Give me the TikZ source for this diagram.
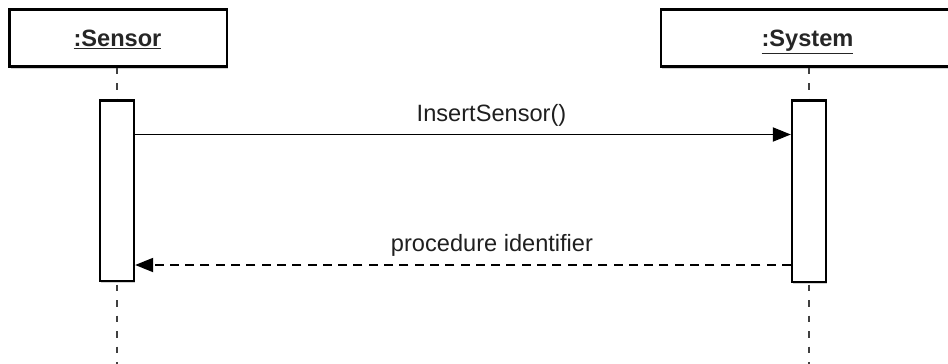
\documentclass[tikz,border=0pt]{standalone}
\usepackage{fontspec}
\setmainfont{Liberation Sans}
\usetikzlibrary{arrows.meta,shadows}

\begin{document}
\begin{tikzpicture}[x=1pt,y=-1pt,
    softshadow/.style={drop shadow={shadow xshift=1.2pt,shadow yshift=-2pt,fill=black,opacity=0.18}},
    headbox/.style={draw=black,line width=2.3pt,fill=white,softshadow,inner sep=0pt},
    headlabel/.style={font=\fontsize{23.6}{28}\selectfont\bfseries,text=black!85,inner sep=0pt},
    actbox/.style={draw=black,line width=2.3pt,fill=white,softshadow,inner sep=0pt,minimum width=34pt},
    lifeline/.style={line width=2.2pt,draw=black!75,dash pattern=on 6.5pt off 9pt},
    msg/.style={line width=1.9pt,draw=black,-{Triangle[length=18pt,width=14pt]}},
    reply/.style={msg,dash pattern=on 9pt off 6.3pt},
    msglabel/.style={font=\fontsize{23.6}{28}\selectfont,text=black!88,inner sep=0pt}]
  \useasboundingbox (0,0) rectangle (948,364);

  % participant heads
  \node[headbox,minimum width=217.5pt,minimum height=57pt] (sensorbox) at (118.25,38) {};
  \node[headbox,minimum width=294pt,minimum height=57pt] (systembox) at (808,38) {};
  \node[headlabel,anchor=base] (sensorlabel) at (117.5,46.7) {\underline{:Sensor}};
  \node[headlabel,anchor=base] (systemlabel) at (807.5,46.7) {\underline{:System}};

  % lifelines
  \coordinate (sensorend) at (117,366);
  \coordinate (systemend) at (809,366);
  \draw[lifeline] (sensorbox.south -| sensorend) -- (sensorend);
  \draw[lifeline] (systembox.south -| systemend) -- (systemend);

  % activation bars
  \node[actbox,minimum height=180.5pt] (sensoract) at (117,190.75) {};
  \node[actbox,minimum height=181.5pt] (systemact) at (809,191.25) {};

  % messages
  \coordinate (callrow) at (0,134.5);
  \coordinate (replyrow) at (0,265);
  \draw[msg] (sensoract.east |- callrow) -- (systemact.west |- callrow);
  \draw[reply] (systemact.west |- replyrow) -- (sensoract.east |- replyrow);
  \node[msglabel,anchor=base] (calllabel) at (491.5,121.7) {InsertSensor()};
  \node[msglabel,anchor=base] (replylabel) at (492,251.7) {procedure identifier};
\end{tikzpicture}
\end{document}
